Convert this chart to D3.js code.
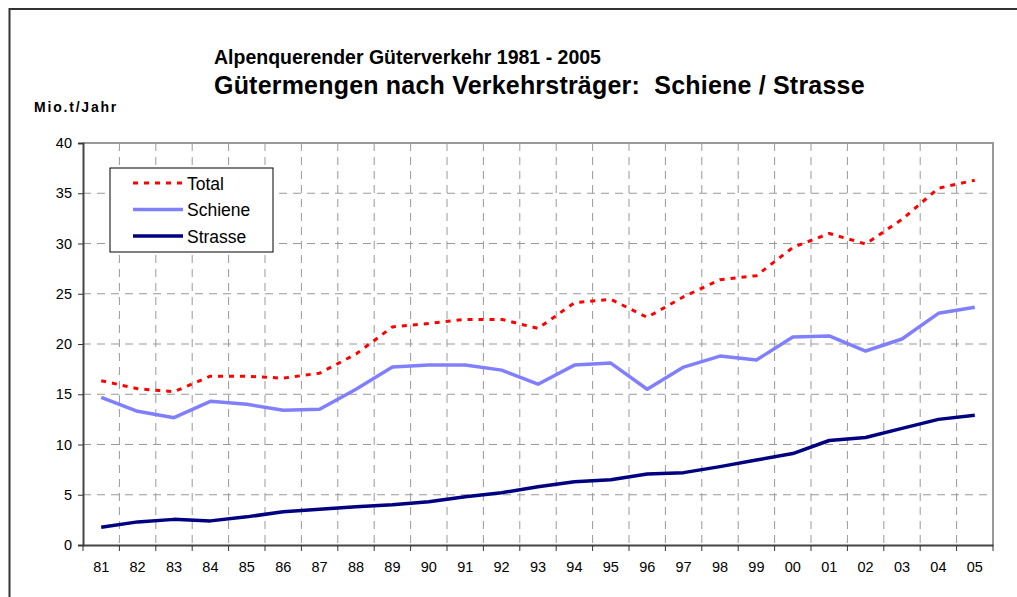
<!DOCTYPE html>
<html>
<head>
<meta charset="utf-8">
<script src="https://cdn.jsdelivr.net/npm/d3@7"></script>
<style>
    body { margin: 0; background: #fff; }
    text { font-family: Arial, "Liberation Sans", sans-serif; }
</style>
</head>
<body>
<svg id="chart" width="1017" height="597"></svg>
<script>
var years = ["81", "82", "83", "84", "85", "86", "87", "88", "89", "90", "91", "92", "93",
             "94", "95", "96", "97", "98", "99", "00", "01", "02", "03", "04", "05"];

var total = [16.35, 15.55, 15.25, 16.8, 16.8, 16.6, 17.1, 19.0, 21.7, 22.05, 22.45, 22.45, 21.55,
             24.1, 24.45, 22.65, 24.7, 26.4, 26.8, 29.6, 31.0, 29.95, 32.4, 35.5, 36.3];

var schiene = [14.7, 13.3, 12.67, 14.3, 14.0, 13.4, 13.5, 15.5, 17.7, 17.9, 17.9, 17.4, 16.0,
               17.9, 18.1, 15.5, 17.7, 18.8, 18.4, 20.7, 20.8, 19.3, 20.5, 23.05, 23.65];

var strasse = [1.76, 2.3, 2.55, 2.4, 2.8, 3.3, 3.55, 3.8, 4.0, 4.3, 4.8, 5.2, 5.8,
               6.3, 6.5, 7.06, 7.2, 7.8, 8.45, 9.1, 10.4, 10.7, 11.6, 12.5, 12.9];

var yTicks = [0, 5, 10, 15, 20, 25, 30, 35, 40];

var series = [
    { name: "Total", values: total, color: "#ff0000", width: 3, dash: "5,6" },
    { name: "Schiene", values: schiene, color: "#8080ff", width: 3.5, dash: null },
    { name: "Strasse", values: strasse, color: "#000080", width: 3.5, dash: null }
];

var svg = d3.select("#chart");

var plot = { left: 83, right: 993, top: 143, bottom: 545 };

// outer frame
svg.append("path")
    .attr("d", "M9.5 597 L9.5 9 L1017 9")
    .attr("fill", "none")
    .attr("stroke", "#333")
    .attr("stroke-width", 2);

var x = d3.scaleBand()
    .domain(years)
    .range([plot.left, plot.right]);

var y = d3.scaleLinear()
    .domain([0, 40])
    .range([plot.bottom, plot.top]);

// titles
svg.append("text")
    .attr("x", 214).attr("y", 64)
    .attr("font-size", 19.5).attr("font-weight", "bold")
    .text("Alpenquerender Güterverkehr 1981 - 2005");

svg.append("text")
    .attr("x", 214).attr("y", 94)
    .attr("font-size", 25).attr("font-weight", "bold")
    .attr("letter-spacing", 0.2)
    .style("white-space", "pre")
    .text("Gütermengen nach Verkehrsträger:  Schiene / Strasse");

svg.append("text")
    .attr("x", 34).attr("y", 112)
    .attr("font-size", 14).attr("font-weight", "bold")
    .attr("letter-spacing", 1.8)
    .text("Mio.t/Jahr");

// grid
var grid = svg.append("g").attr("class", "grid");

grid.selectAll("line.h")
    .data(yTicks.filter(function(d) { return d > 0 && d < 40; }))
    .enter().append("line")
    .attr("class", "h")
    .attr("x1", plot.left).attr("x2", plot.right)
    .attr("y1", function(d) { return y(d); })
    .attr("y2", function(d) { return y(d); })
    .attr("stroke", "#999")
    .attr("stroke-width", 1)
    .attr("stroke-dasharray", "8,6");

grid.selectAll("line.v")
    .data(years.slice(1))
    .enter().append("line")
    .attr("class", "v")
    .attr("x1", function(d) { return x(d); })
    .attr("x2", function(d) { return x(d); })
    .attr("y1", plot.top).attr("y2", plot.bottom)
    .attr("stroke", "#999")
    .attr("stroke-width", 1)
    .attr("stroke-dasharray", "8,6");

// plot border top / right
svg.append("path")
    .attr("d", "M" + plot.left + " " + plot.top + " L" + plot.right + " " + plot.top + " L" + plot.right + " " + plot.bottom)
    .attr("fill", "none")
    .attr("stroke", "#999")
    .attr("stroke-width", 2);

// axes
var yAxis = svg.append("g")
    .attr("transform", "translate(" + plot.left + ",0)")
    .call(d3.axisLeft(y).tickValues(yTicks).tickSize(5).tickPadding(6));

var xAxis = svg.append("g")
    .attr("transform", "translate(0," + plot.bottom + ")")
    .call(d3.axisBottom(x).tickSize(0).tickPadding(17));

// band-boundary ticks under the x axis
xAxis.selectAll("line.bound")
    .data(years.concat(["end"]))
    .enter().append("line")
    .attr("class", "bound")
    .attr("x1", function(d, i) { return plot.left + i * x.step(); })
    .attr("x2", function(d, i) { return plot.left + i * x.step(); })
    .attr("y1", 0).attr("y2", 6)
    .attr("stroke", "#333")
    .attr("stroke-width", 1);

[yAxis, xAxis].forEach(function(ax) {
    ax.select(".domain").attr("stroke", "#444").attr("stroke-width", 2);
    ax.selectAll(".tick line").attr("stroke", "#333");
    ax.selectAll("text")
        .attr("font-size", 14.5)
        .attr("fill", "#000")
        .attr("font-family", "Arial, 'Liberation Sans', sans-serif");
});

// lines
var line = d3.line()
    .x(function(d, i) { return x(years[i]) + x.bandwidth() / 2; })
    .y(function(d) { return y(d); });

svg.selectAll("path.series")
    .data(series.slice().reverse())
    .enter().append("path")
    .attr("class", "series")
    .attr("d", function(d) { return line(d.values); })
    .attr("fill", "none")
    .attr("stroke", function(d) { return d.color; })
    .attr("stroke-width", function(d) { return d.width; })
    .attr("stroke-dasharray", function(d) { return d.dash; })
    .attr("stroke-linejoin", "round");

// legend
var legend = svg.append("g").attr("transform", "translate(110,168)");

legend.append("rect")
    .attr("x", 0).attr("y", 0)
    .attr("width", 163).attr("height", 84)
    .attr("fill", "#fff")
    .attr("stroke", "#000")
    .attr("stroke-width", 1);

var item = legend.selectAll("g.item")
    .data(series).enter()
    .append("g")
    .attr("class", "item")
    .attr("transform", function(d, i) { return "translate(0," + (15 + i * 26.5) + ")"; });

item.append("line")
    .attr("x1", 23).attr("x2", 73)
    .attr("y1", 0).attr("y2", 0)
    .attr("stroke", function(d) { return d.color; })
    .attr("stroke-width", function(d) { return d.width; })
    .attr("stroke-dasharray", function(d) { return d.dash; });

item.append("text")
    .attr("x", 77).attr("y", 6.5)
    .attr("font-size", 17.5)
    .text(function(d) { return d.name; });
</script>
</body>
</html>
